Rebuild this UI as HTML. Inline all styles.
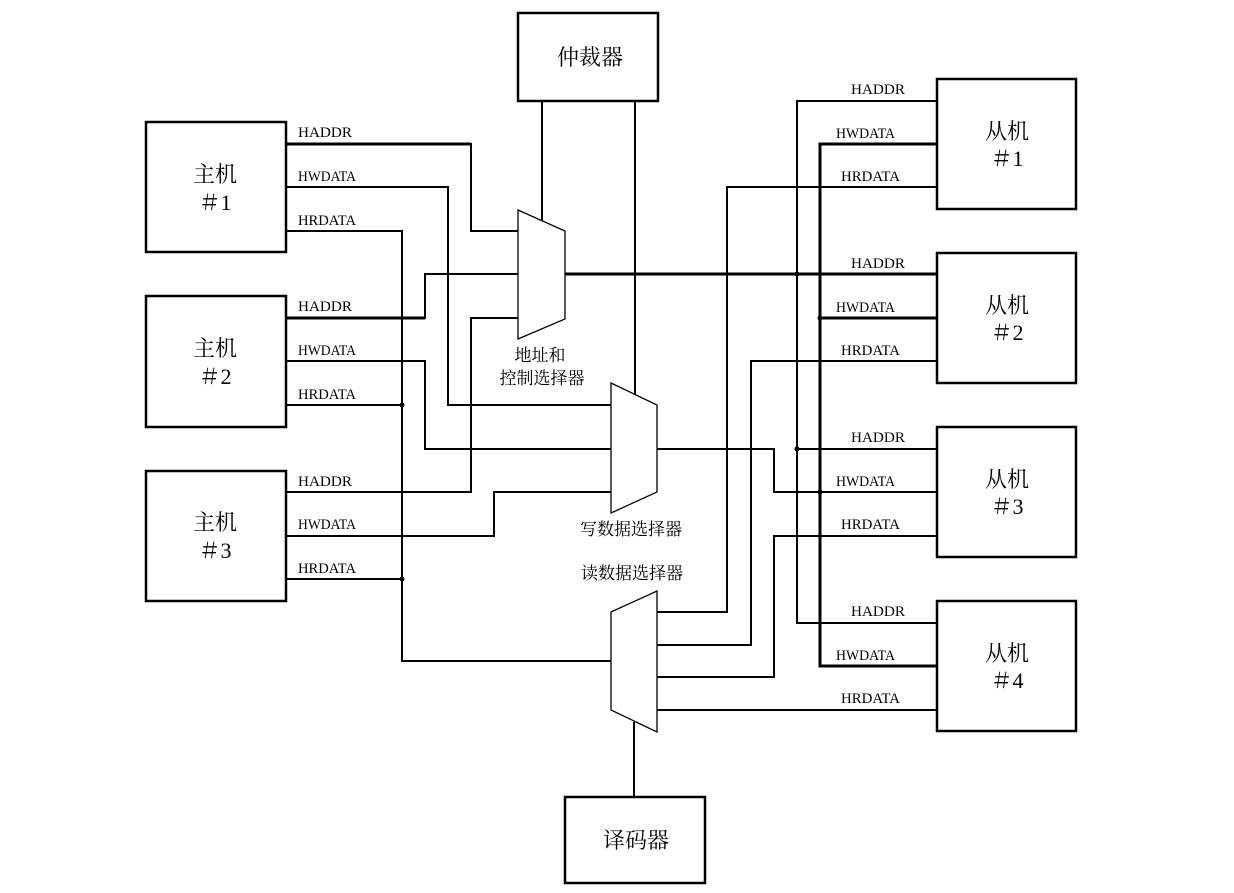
<!DOCTYPE html>
<html><head><meta charset="utf-8"><style>body{margin:0;background:#fff}svg{display:block}</style></head><body>
<svg width="1234" height="893" viewBox="0 0 1234 893" xmlns="http://www.w3.org/2000/svg">
<g fill="none" stroke="#000" stroke-width="2.5">
<rect x="146" y="122" width="140" height="130"/>
<rect x="146" y="296" width="140" height="131"/>
<rect x="146" y="471" width="140" height="130"/>
<rect x="518" y="13" width="140" height="88"/>
<rect x="937" y="79" width="139" height="130"/>
<rect x="937" y="253" width="139" height="130"/>
<rect x="937" y="427" width="139" height="130"/>
<rect x="937" y="601" width="139" height="130"/>
<rect x="565" y="797" width="140" height="86"/>
</g>
<g fill="none" stroke="#000" stroke-width="1.3">
<polygon points="518,210 565,231 565,319 518,339"/>
<polygon points="611,383 657,405 657,492 611,513"/>
<polygon points="611,612 657,591 657,732 611,710"/>
</g>
<g fill="none" stroke="#000" stroke-width="2" stroke-linejoin="miter">
<polyline points="542,101 542,221"/>
<polyline points="635,101 635,394"/>
<polyline points="634,722 634,797"/>
<polyline points="286,144 471,144 471,231 518,231"/>
<polyline points="286,318 425,318 425,274 518,274"/>
<polyline points="286,492 471,492 471,318 518,318"/>
<polyline points="565,274 937,274" stroke-width="3"/>
<polyline points="286,187 448,187 448,405 611,405"/>
<polyline points="286,361 425,361 425,449 611,449"/>
<polyline points="286,536 494,536 494,492 611,492"/>
<polyline points="657,449 774,449 774,492 937,492"/>
<polyline points="286,231 402,231 402,661 611,661"/>
<polyline points="286,405 402,405"/>
<polyline points="286,579 402,579"/>
<polyline points="657,612 727,612 727,187 937,187"/>
<polyline points="657,645 751,645 751,361 937,361"/>
<polyline points="657,677 774,677 774,536 937,536"/>
<polyline points="657,710 937,710"/>
<polyline points="937,101 797,101 797,623 937,623"/>
<polyline points="797,449 937,449"/>
<polyline points="937,144 820,144 820,666 937,666" stroke-width="3"/>
<polyline points="820,318 937,318" stroke-width="3"/>
</g>
<g stroke="none" fill="#000">
<rect x="286" y="142.5" width="185" height="3"/>
<rect x="286" y="316.5" width="139" height="3"/>
<circle cx="402" cy="405" r="2.5"/><circle cx="402" cy="579" r="2.5"/>
<circle cx="797" cy="274" r="2.5"/><circle cx="797" cy="449" r="2.5"/>
<circle cx="820" cy="318" r="2.5"/><circle cx="820" cy="492" r="2.5"/>
</g>
<g font-family="Liberation Serif, serif" font-size="15" fill="#000">
<text x="298" y="137" textLength="54" lengthAdjust="spacingAndGlyphs">HADDR</text>
<text x="298" y="181" textLength="58" lengthAdjust="spacingAndGlyphs">HWDATA</text>
<text x="298" y="225" textLength="58" lengthAdjust="spacingAndGlyphs">HRDATA</text>
<text x="298" y="311" textLength="54" lengthAdjust="spacingAndGlyphs">HADDR</text>
<text x="298" y="355" textLength="58" lengthAdjust="spacingAndGlyphs">HWDATA</text>
<text x="298" y="399" textLength="58" lengthAdjust="spacingAndGlyphs">HRDATA</text>
<text x="298" y="486" textLength="54" lengthAdjust="spacingAndGlyphs">HADDR</text>
<text x="298" y="529" textLength="58" lengthAdjust="spacingAndGlyphs">HWDATA</text>
<text x="298" y="573" textLength="58" lengthAdjust="spacingAndGlyphs">HRDATA</text>
<text x="851" y="94" textLength="54" lengthAdjust="spacingAndGlyphs">HADDR</text>
<text x="836" y="138" textLength="59" lengthAdjust="spacingAndGlyphs">HWDATA</text>
<text x="841" y="181" textLength="59" lengthAdjust="spacingAndGlyphs">HRDATA</text>
<text x="851" y="268" textLength="54" lengthAdjust="spacingAndGlyphs">HADDR</text>
<text x="836" y="312" textLength="59" lengthAdjust="spacingAndGlyphs">HWDATA</text>
<text x="841" y="355" textLength="59" lengthAdjust="spacingAndGlyphs">HRDATA</text>
<text x="851" y="442" textLength="54" lengthAdjust="spacingAndGlyphs">HADDR</text>
<text x="836" y="486" textLength="59" lengthAdjust="spacingAndGlyphs">HWDATA</text>
<text x="841" y="529" textLength="59" lengthAdjust="spacingAndGlyphs">HRDATA</text>
<text x="851" y="616" textLength="54" lengthAdjust="spacingAndGlyphs">HADDR</text>
<text x="836" y="660" textLength="59" lengthAdjust="spacingAndGlyphs">HWDATA</text>
<text x="841" y="703" textLength="59" lengthAdjust="spacingAndGlyphs">HRDATA</text>
</g>
<g font-family="Liberation Serif, 'Noto Serif CJK SC', serif" font-size="22" fill="#000" text-anchor="middle">
<text x="215" y="182">主机</text><text x="215" y="210">＃1</text>
<text x="215" y="356">主机</text><text x="215" y="384">＃2</text>
<text x="215" y="530">主机</text><text x="215" y="558">＃3</text>
<text x="1007" y="139">从机</text><text x="1007" y="166">＃1</text>
<text x="1007" y="313">从机</text><text x="1007" y="340">＃2</text>
<text x="1007" y="487">从机</text><text x="1007" y="514">＃3</text>
<text x="1007" y="661">从机</text><text x="1007" y="688">＃4</text>
<text x="590" y="65">仲裁器</text>
<text x="636" y="848">译码器</text>
</g>
<g font-family="'Noto Serif CJK SC', serif" font-size="17" fill="#000" text-anchor="middle">
<text x="540" y="361">地址和</text>
<text x="542" y="384">控制选择器</text>
<text x="631" y="535">写数据选择器</text>
<text x="632" y="579">读数据选择器</text>
</g>
</svg>
</body></html>
